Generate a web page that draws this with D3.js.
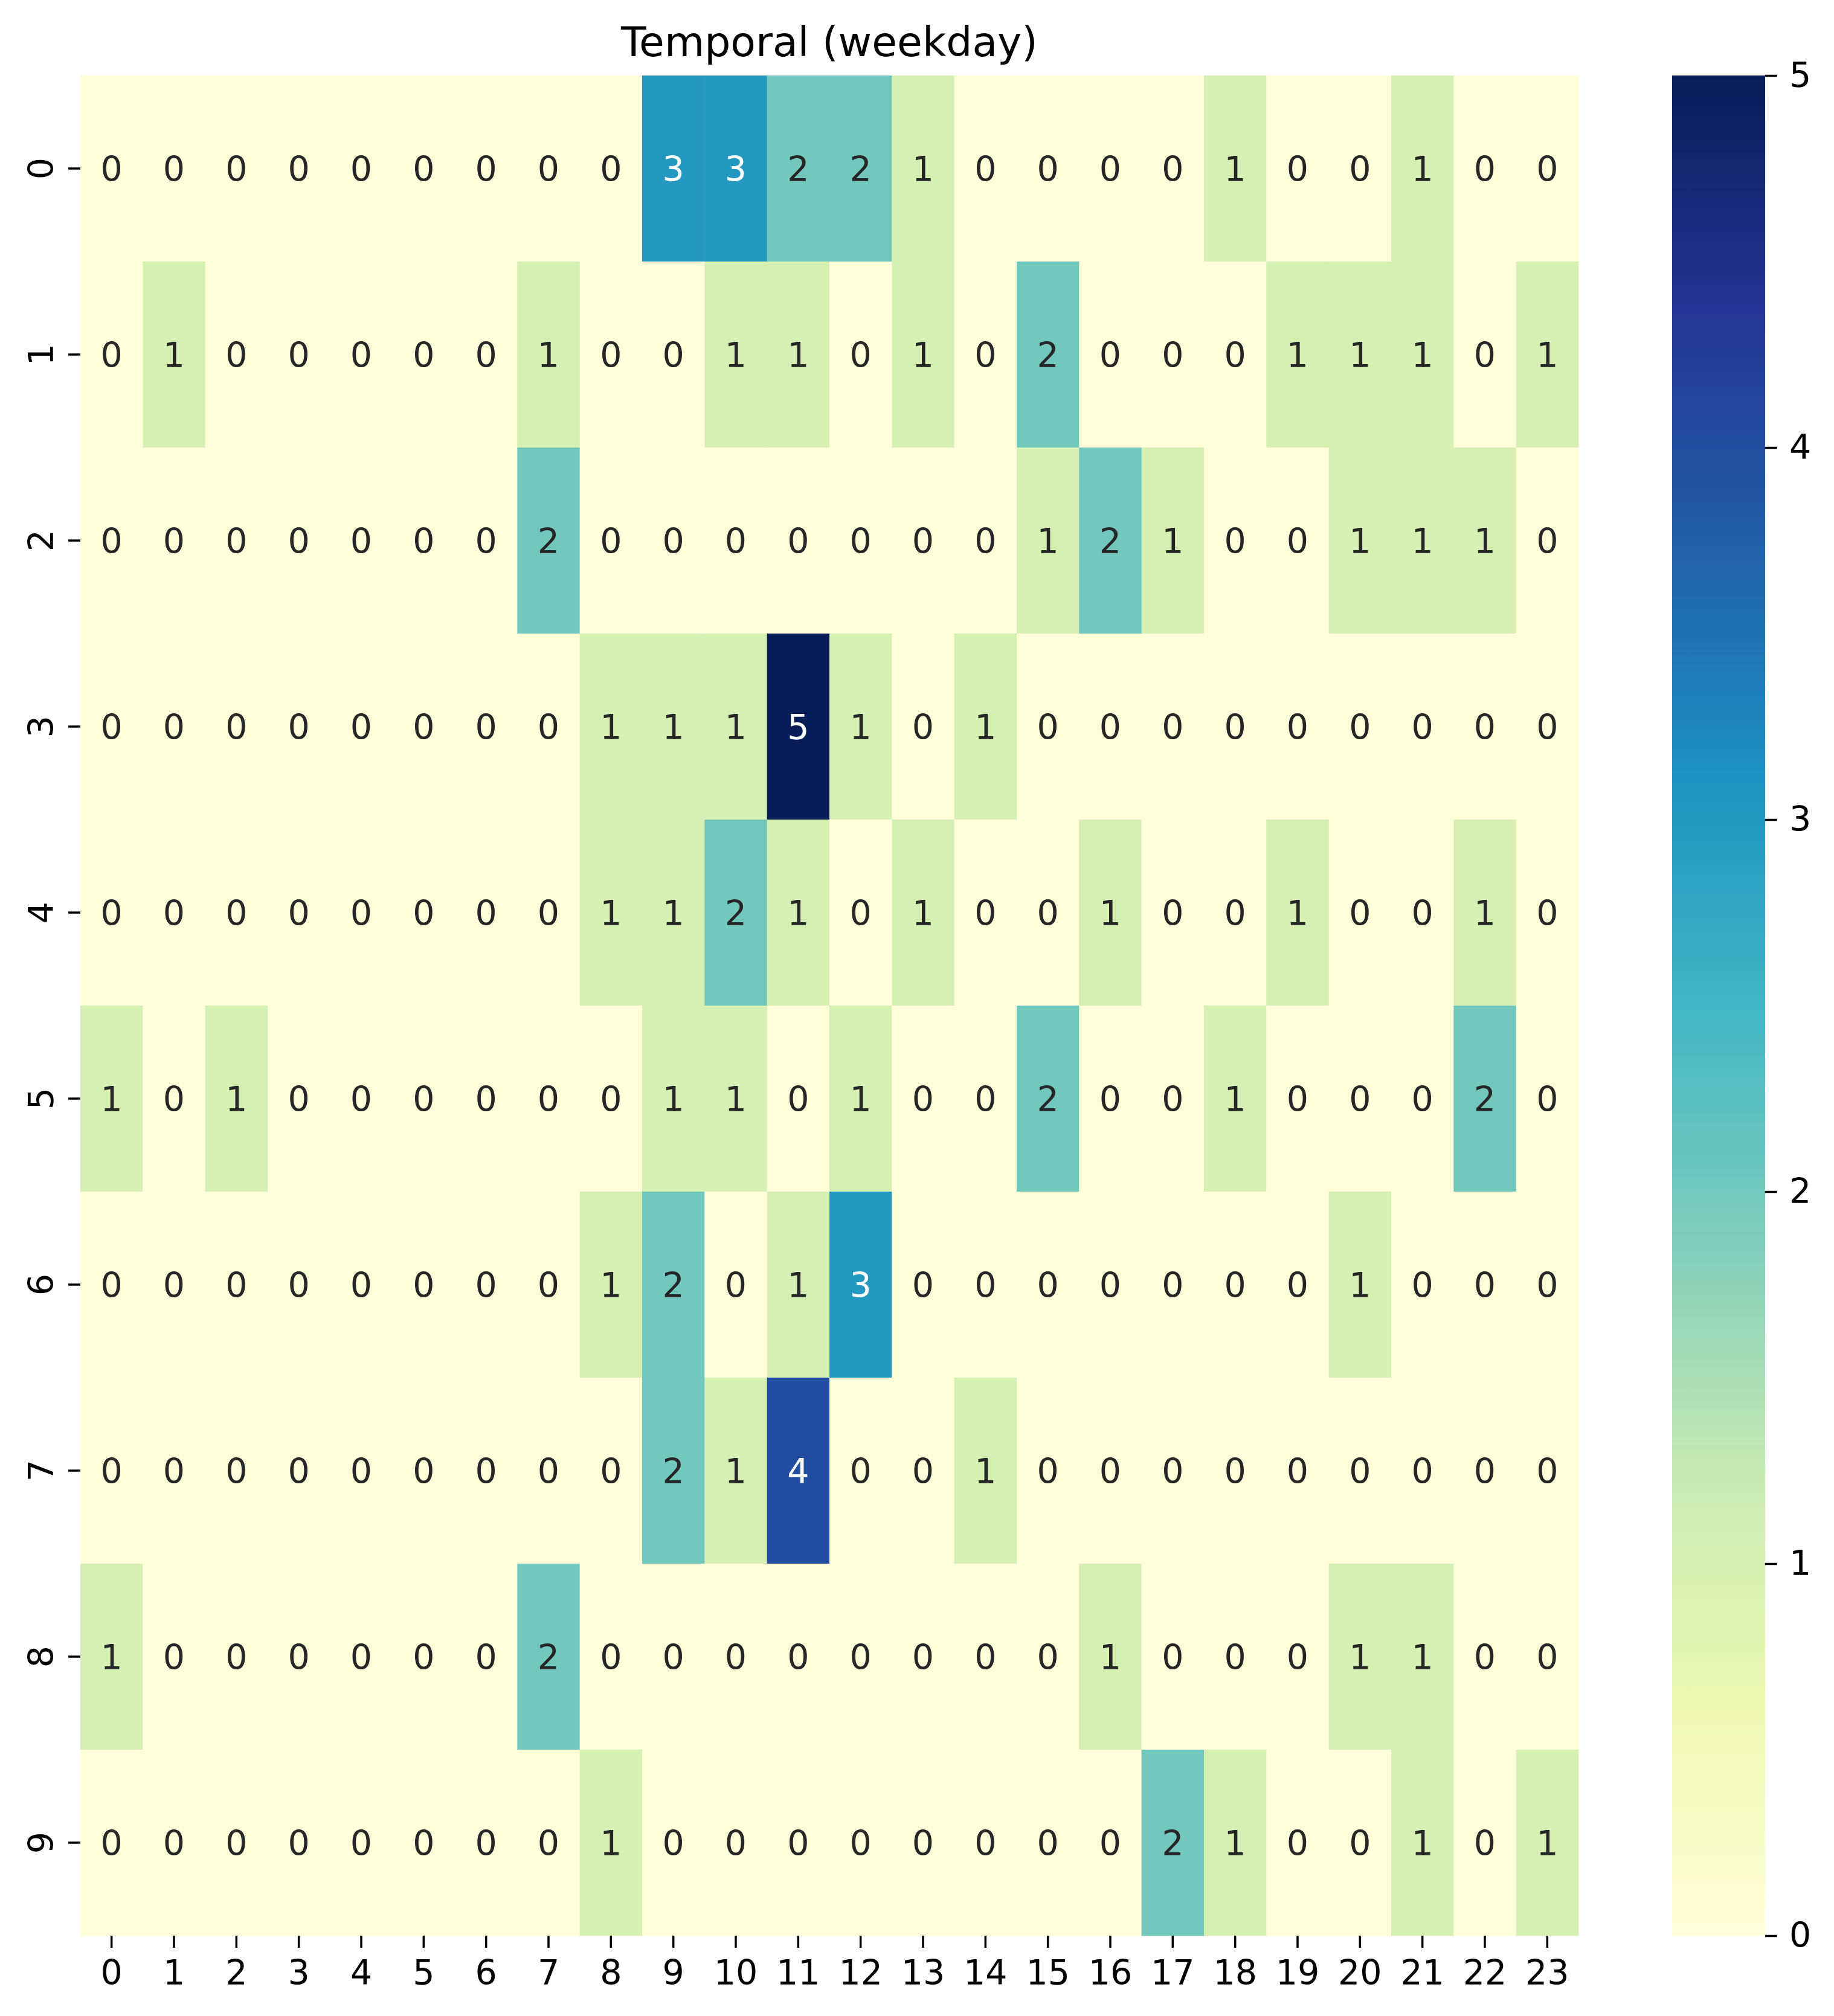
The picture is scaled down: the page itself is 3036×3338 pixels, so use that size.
<!DOCTYPE html>
<html>
<head>
<meta charset="utf-8">
<script src="https://cdn.jsdelivr.net/npm/d3@7"></script>
<style>
  body { margin: 0; background: #fff; }
  text { font-family: "DejaVu Sans", sans-serif; }
</style>
</head>
<body>
<div id="chart"></div>
<script>
// tick labels
var hours = d3.range(24).map(String);
var days = d3.range(10).map(String);
var cbarTicks = [0, 1, 2, 3, 4, 5];

// counts per row (day) and column (hour)
var counts = [
    [0,0,0,0,0,0,0,0,0,3,3,2,2,1,0,0,0,0,1,0,0,1,0,0],
    [0,1,0,0,0,0,0,1,0,0,1,1,0,1,0,2,0,0,0,1,1,1,0,1],
    [0,0,0,0,0,0,0,2,0,0,0,0,0,0,0,1,2,1,0,0,1,1,1,0],
    [0,0,0,0,0,0,0,0,1,1,1,5,1,0,1,0,0,0,0,0,0,0,0,0],
    [0,0,0,0,0,0,0,0,1,1,2,1,0,1,0,0,1,0,0,1,0,0,1,0],
    [1,0,1,0,0,0,0,0,0,1,1,0,1,0,0,2,0,0,1,0,0,0,2,0],
    [0,0,0,0,0,0,0,0,1,2,0,1,3,0,0,0,0,0,0,0,1,0,0,0],
    [0,0,0,0,0,0,0,0,0,2,1,4,0,0,1,0,0,0,0,0,0,0,0,0],
    [1,0,0,0,0,0,0,2,0,0,0,0,0,0,0,0,1,0,0,0,1,1,0,0],
    [0,0,0,0,0,0,0,0,1,0,0,0,0,0,0,0,0,2,1,0,0,1,0,1]
];

var title = "Temporal (weekday)";

// matplotlib YlGnBu
var ylgnbu = ['#ffffd9','#edf8b1','#c7e9b4','#7fcdbb','#41b6c4','#1d91c0','#225ea8','#253494','#081d58'];

function draw() {
    var width = 3036, height = 3338;
    var plotL = 133, plotR = 2613, plotT = 125, plotB = 3205;
    var cbLeft = 2768, cbRight = 2922;
    var fs = 57;
    var tickW = 3.5;

    var color = d3.scaleLinear()
        .domain(ylgnbu.map(function (d, i) { return i / (ylgnbu.length - 1) * 5; }))
        .range(ylgnbu)
        .interpolate(d3.interpolateRgb);

    function lum(c) {
        var rgb = d3.rgb(c);
        var f = function (v) {
            v = v / 255;
            return v <= 0.03928 ? v / 12.92 : Math.pow((v + 0.055) / 1.055, 2.4);
        };
        return 0.2126 * f(rgb.r) + 0.7152 * f(rgb.g) + 0.0722 * f(rgb.b);
    }

    var svg = d3.select("#chart").append("svg")
        .attr("width", width)
        .attr("height", height);

    var x = d3.scaleBand().domain(hours).range([plotL, plotR]);
    var y = d3.scaleBand().domain(days).range([plotT, plotB]);

    var cells = [];
    counts.forEach(function (row, i) {
        row.forEach(function (v, j) {
            cells.push({ day: days[i], hour: hours[j], value: v });
        });
    });

    var g = svg.append("g");

    g.selectAll("rect")
        .data(cells)
        .enter().append("rect")
        .attr("x", function (d) { return x(d.hour); })
        .attr("y", function (d) { return y(d.day); })
        .attr("width", x.bandwidth() + 0.5)
        .attr("height", y.bandwidth() + 0.5)
        .attr("fill", function (d) { return color(d.value); });

    g.selectAll("text.ann")
        .data(cells)
        .enter().append("text")
        .attr("class", "ann")
        .attr("x", function (d) { return x(d.hour) + x.bandwidth() / 2; })
        .attr("y", function (d) { return y(d.day) + y.bandwidth() / 2; })
        .attr("dy", "0.36em")
        .attr("text-anchor", "middle")
        .style("font-size", fs + "px")
        .style("fill", function (d) { return lum(color(d.value)) > 0.408 ? "#262626" : "#ffffff"; })
        .text(function (d) { return d.value; });

    // x axis
    var xAxis = svg.append("g")
        .attr("transform", "translate(0," + plotB + ")")
        .call(d3.axisBottom(x).tickSize(20).tickPadding(18));
    xAxis.select(".domain").remove();
    xAxis.selectAll("line").attr("stroke", "#000").attr("stroke-width", tickW);
    xAxis.selectAll("text")
        .attr("fill", "#000")
        .attr("dy", "0.76em")
        .style("font-size", fs + "px")
        .style("font-family", "DejaVu Sans");

    // y axis, labels vertical
    var yAxis = svg.append("g")
        .attr("transform", "translate(" + plotL + ",0)")
        .call(d3.axisLeft(y).tickSize(20));
    yAxis.select(".domain").remove();
    yAxis.selectAll("line").attr("stroke", "#000").attr("stroke-width", tickW);
    yAxis.selectAll("text")
        .attr("x", 0)
        .attr("dy", 0)
        .attr("text-anchor", "middle")
        .attr("fill", "#000")
        .attr("transform", "translate(-45,0) rotate(-90)")
        .style("font-size", fs + "px")
        .style("font-family", "DejaVu Sans");

    // colorbar
    var defs = svg.append("defs");
    var grad = defs.append("linearGradient")
        .attr("id", "cbar")
        .attr("x1", 0).attr("y1", 1)
        .attr("x2", 0).attr("y2", 0);
    grad.selectAll("stop")
        .data(ylgnbu)
        .enter().append("stop")
        .attr("offset", function (d, i) { return i / (ylgnbu.length - 1); })
        .attr("stop-color", function (d) { return d; });

    svg.append("rect")
        .attr("x", cbLeft)
        .attr("y", plotT)
        .attr("width", cbRight - cbLeft)
        .attr("height", plotB - plotT)
        .attr("fill", "url(#cbar)");

    var cScale = d3.scaleLinear().domain([0, 5]).range([plotB, plotT]);
    var cAxis = svg.append("g")
        .attr("transform", "translate(" + cbRight + ",0)")
        .call(d3.axisRight(cScale).tickValues(cbarTicks).tickFormat(d3.format("d")).tickSize(20).tickPadding(20));
    cAxis.select(".domain").remove();
    cAxis.selectAll("line").attr("stroke", "#000").attr("stroke-width", tickW);
    cAxis.selectAll("text")
        .attr("fill", "#000")
        .style("font-size", fs + "px")
        .style("font-family", "DejaVu Sans");

    // title
    svg.append("text")
        .attr("x", (plotL + plotR) / 2)
        .attr("y", 93)
        .attr("text-anchor", "middle")
        .style("font-size", "68px")
        .style("fill", "#000")
        .text(title);
}

draw();
</script>
</body>
</html>
